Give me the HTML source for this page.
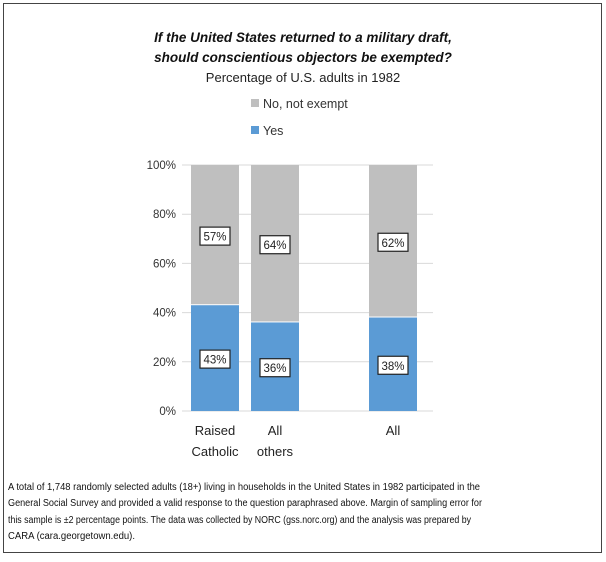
<!DOCTYPE html>
<html><head><meta charset="utf-8"><style>
html,body{margin:0;padding:0;background:#fff;}
svg{display:block;font-family:"Liberation Sans",sans-serif;}
</style></head><body>
<svg id="chart" width="606" height="562" viewBox="0 0 606 562">
<rect x="3.5" y="3.5" width="598" height="549" fill="#fff" stroke="#444" stroke-width="1"/>
<text x="303" y="42" text-anchor="middle" font-size="13.5" font-weight="bold" font-style="italic" fill="#111">If the United States returned to a military draft,</text>
<text x="303" y="62" text-anchor="middle" font-size="13.5" font-weight="bold" font-style="italic" fill="#111">should conscientious objectors be exempted?</text>
<text x="303" y="82" text-anchor="middle" font-size="13" fill="#222">Percentage of U.S. adults in 1982</text>
<g>
<rect x="251" y="99" width="8" height="8" fill="#bfbfbf"/>
<text x="263" y="108" font-size="12.5" fill="#333">No, not exempt</text>
<rect x="251" y="126" width="8" height="8" fill="#5b9bd5"/>
<text x="263" y="135" font-size="12.5" fill="#333">Yes</text>
</g>
<g id="grid"></g><g id="bars"></g><g id="labels"></g>
<g font-size="10" fill="#111">
<text x="8" y="490" textLength="472" lengthAdjust="spacingAndGlyphs">A total of 1,748 randomly selected adults (18+) living in households in the United States in 1982 participated in the</text>
<text x="8" y="506" textLength="474" lengthAdjust="spacingAndGlyphs">General Social Survey and provided a valid response to the question paraphrased above. Margin of sampling error for</text>
<text x="8" y="523" textLength="463" lengthAdjust="spacingAndGlyphs">this sample is ±2 percentage points. The data was collected by NORC (gss.norc.org) and the analysis was prepared by</text>
<text x="8" y="539" textLength="127" lengthAdjust="spacingAndGlyphs">CARA (cara.georgetown.edu).</text>
</g>
</svg>
<script>
const categories = [["Raised","Catholic"],["All","others"],["All"]];
const yesValues = [43, 36, 38];
const noValues = [57, 64, 62];
const tickValues = [0, 20, 40, 60, 80, 100];
const ns = "http://www.w3.org/2000/svg";
const y0 = 411, y100 = 165;
function yScale(v){ return y0 - (y0 - y100) * v / 100; }
const slotX = [191, 251, 369]; // category slot left edges (layout)
const barW = 48;
function mk(tag, attrs, parent){ const e=document.createElementNS(ns,tag); for(const k in attrs) e.setAttribute(k,attrs[k]); parent.appendChild(e); return e; }
const grid=document.getElementById('grid'), bars=document.getElementById('bars'), labels=document.getElementById('labels');
tickValues.forEach(t=>{
  const l=mk('line',{x1:182,x2:433,y1:yScale(t),y2:yScale(t),stroke:'#d9d9d9','stroke-width':1},grid);
  
  
  const tx=mk('text',{x:176,y:yScale(t)+4,'text-anchor':'end','font-size':11.5,fill:'#333'},grid);
  tx.textContent=t+'%';
  
  
});
function labelBox(cx, cy, txt){
  const r=mk('rect',{x:cx-15,y:cy-9,width:30,height:18,fill:'#fff',stroke:'#222','stroke-width':1.2},labels);
  
  
  const t=mk('text',{x:cx,y:cy+4.5,'text-anchor':'middle','font-size':11.5,fill:'#222'},labels);
  t.textContent=txt;
  
  
}
categories.forEach((c,i)=>{
  const x=slotX[i], cx=x+barW/2;
  const yTop=yScale(yesValues[i]);
  const by=mk('rect',{x:x,y:yTop,width:barW,height:y0-yTop,fill:'#5b9bd5'},bars);
  
  
  const nTop=yScale(yesValues[i]+noValues[i]);
  const bn=mk('rect',{x:x,y:nTop,width:barW,height:yTop-nTop-1,fill:'#bfbfbf'},bars);
  
  
  labelBox(cx, yScale(yesValues[i]/2)+1, yesValues[i]+'%');
  labelBox(cx, yScale(yesValues[i]+noValues[i]/2)+1, noValues[i]+'%');
  c.forEach((line,j)=>{
    const t=mk('text',{x:cx,y:435+j*21,'text-anchor':'middle','font-size':13,fill:'#222'},labels);
    t.textContent=line;
    
    
  });
});
</script>
</body></html>
